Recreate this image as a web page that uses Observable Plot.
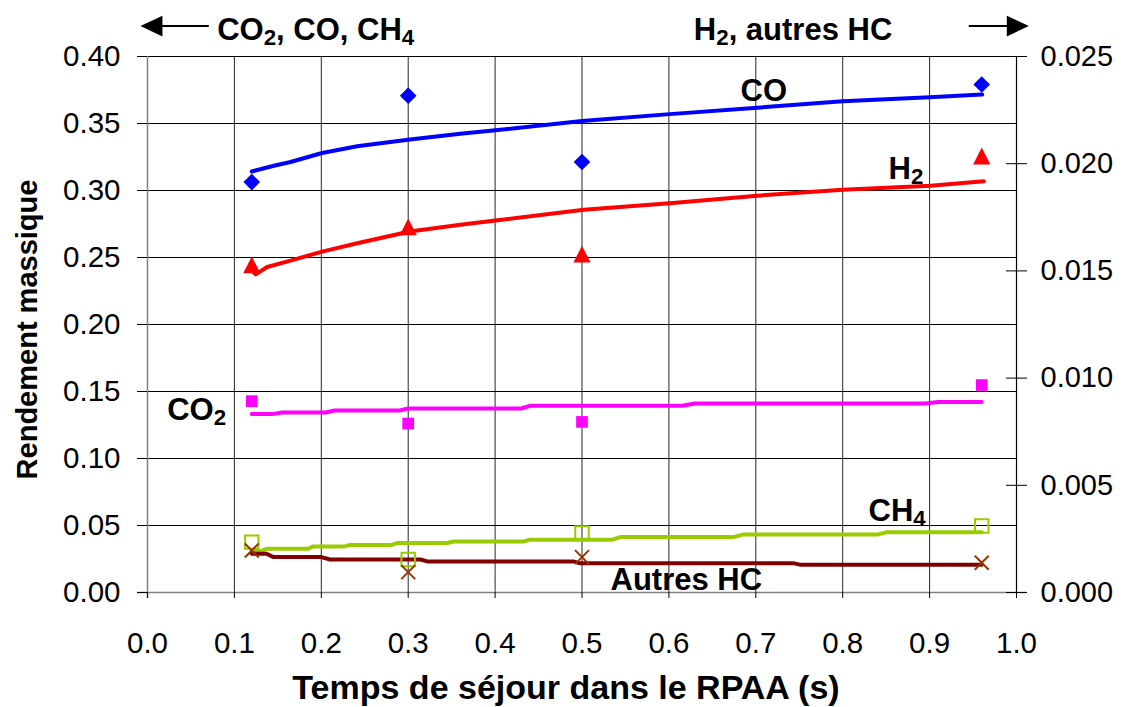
<!DOCTYPE html>
<html><head><meta charset="utf-8">
<script src="https://cdn.jsdelivr.net/npm/d3@7"></script>
<script src="https://cdn.jsdelivr.net/npm/@observablehq/plot@0.6"></script>
<style>
body{margin:0;background:#fff}
#chart svg{display:block}
</style>
</head><body><div id="chart"></div>
<script>
// ---------- data ----------
const xTicks = [0.0, 0.1, 0.2, 0.3, 0.4, 0.5, 0.6, 0.7, 0.8, 0.9, 1.0];
const yLeftTicks = [0.00, 0.05, 0.10, 0.15, 0.20, 0.25, 0.30, 0.35, 0.40];
const yRightTicks = [0.000, 0.005, 0.010, 0.015, 0.020, 0.025];
const rightToLeft = 16; // 0.025 (right) <-> 0.40 (left)

const xTitle = "Temps de séjour dans le RPAA (s)";
const yTitle = "Rendement massique";
const leftGroupLabel = "CO₂, CO, CH₄";
const rightGroupLabel = "H₂, autres HC";

// measured points (residence time, s)
const tMeasured = [0.12, 0.30, 0.50, 0.96];
const coMeasured = [0.3063, 0.3708, 0.3213, 0.3791];      // left axis
const co2Measured = [0.1428, 0.1261, 0.1273, 0.1548];     // left axis
const ch4Measured = [0.0376, 0.0247, 0.0444, 0.0496];     // left axis
const h2Measured = [0.01528, 0.01705, 0.01578, 0.02036];  // right axis
const hcMeasured = [0.00196, 0.00095, 0.00165, 0.00139];  // right axis

// model curves
const coFitT = [0.12, 0.1454, 0.1646, 0.201, 0.2413, 0.302, 0.36, 0.4005, 0.5, 0.601, 0.7016, 0.80, 0.90, 0.9605];
const coFitV = [0.3142, 0.3185, 0.3213, 0.328, 0.333, 0.338, 0.3424, 0.3449, 0.3518, 0.357, 0.3618, 0.3666, 0.3696, 0.3716];

const h2FitT = [0.12, 0.1245, 0.1377, 0.1646, 0.201, 0.2413, 0.302, 0.36, 0.4005, 0.502, 0.601, 0.7016, 0.80, 0.901, 0.9624];
const h2FitV = [0.01503, 0.01484, 0.01518, 0.01548, 0.0159, 0.01629, 0.01684, 0.01715, 0.01735, 0.01785, 0.01816, 0.01851, 0.01879, 0.01897, 0.01918];

const co2FitT = [0.12, 0.145, 0.155, 0.205, 0.215, 0.29, 0.30, 0.43, 0.44, 0.615, 0.63, 0.895, 0.91, 0.96];
const co2FitV = [0.1333, 0.1333, 0.1343, 0.1343, 0.1358, 0.1358, 0.1373, 0.1373, 0.1393, 0.1393, 0.1411, 0.1411, 0.1421, 0.1421];

const ch4FitT = [0.12, 0.13, 0.138, 0.185, 0.19, 0.227, 0.232, 0.28, 0.287, 0.345, 0.352, 0.433, 0.44, 0.535, 0.545, 0.675, 0.685, 0.84, 0.85, 0.96];
const ch4FitV = [0.0309, 0.0309, 0.0327, 0.0327, 0.0344, 0.0344, 0.0354, 0.0354, 0.0369, 0.0369, 0.0381, 0.0381, 0.0394, 0.0394, 0.0415, 0.0415, 0.0432, 0.0432, 0.0449, 0.0449];

const hcFitT = [0.12, 0.137, 0.145, 0.20, 0.21, 0.314, 0.322, 0.49, 0.498, 0.744, 0.752, 0.96];
const hcFitV = [0.00181, 0.00181, 0.00165, 0.00165, 0.00154, 0.00154, 0.00145, 0.00145, 0.00136, 0.00136, 0.00129, 0.00129];

// ---------- build tables ----------
const zipPts = (t, v, k) => t.map((x, i) => ({x, y: v[i] * k}));
const coPts = zipPts(tMeasured, coMeasured, 1);
const co2Pts = zipPts(tMeasured, co2Measured, 1);
const ch4Pts = zipPts(tMeasured, ch4Measured, 1);
const h2Pts = zipPts(tMeasured, h2Measured, rightToLeft);
const hcPts = zipPts(tMeasured, hcMeasured, rightToLeft);
const coFit = zipPts(coFitT, coFitV, 1);
const co2Fit = zipPts(co2FitT, co2FitV, 1);
const ch4Fit = zipPts(ch4FitT, ch4FitV, 1);
const h2Fit = zipPts(h2FitT, h2FitV, rightToLeft);
const hcFit = zipPts(hcFitT, hcFitV, rightToLeft);

// custom symbols
const triangleSym = {draw(ctx) { ctx.moveTo(0, -8.4); ctx.lineTo(8.6, 8.4); ctx.lineTo(-8.6, 8.4); ctx.closePath(); }};
const arrowHead = {draw(ctx) { ctx.moveTo(0, 0); ctx.lineTo(-22, -10.3); ctx.lineTo(-22, 10.3); ctx.closePath(); }};

const FONT = "'Liberation Sans', Arial, Helvetica, sans-serif";
const LBL = 31;

const chart = Plot.plot({
  width: 1125,
  height: 707,
  marginLeft: 147,
  marginRight: 109,
  marginTop: 56,
  marginBottom: 115,
  style: {fontFamily: FONT, fontSize: "29px", background: "#fff", color: "#000"},
  x: {domain: [0, 1], label: null},
  y: {domain: [0, 0.4], label: null},
  marks: [
    // grid
    Plot.ruleY(yLeftTicks.filter(v => v > 0), {stroke: "#000", strokeWidth: 1}),
    Plot.ruleX(xTicks.filter(v => v > 0 && v < 1), {stroke: "#000", strokeWidth: 1, strokeOpacity: 0.85}),
    // axis lines
    Plot.ruleX([0], {stroke: "#808080", strokeWidth: 1.5, insetBottom: -6}),
    Plot.ruleY([0], {stroke: "#808080", strokeWidth: 1.5, insetLeft: -10, insetRight: -10}),
    Plot.ruleX([1], {stroke: "#000", strokeWidth: 1.2}),
    // axes
    Plot.axisY(yLeftTicks, {anchor: "left", tickSize: 10, tickPadding: 17, tickFormat: d => d.toFixed(2), fontSize: 29.5, stroke: "#000"}),
    Plot.axisY(yRightTicks.map(v => v * rightToLeft), {anchor: "right", tickSize: 10, tickPadding: 14, tickFormat: d => (d / rightToLeft).toFixed(3), fontSize: 29, stroke: "#000"}),
    Plot.ruleY(yRightTicks.map(v => v * rightToLeft), {insetLeft: 859, insetRight: 0, stroke: "#000"}),
    Plot.axisX(xTicks, {anchor: "bottom", tickSize: 6, tickPadding: 34, tickFormat: d => d.toFixed(1), fontSize: 29.5, stroke: "#000"}),
    // axis titles
    Plot.text([xTitle], {frameAnchor: "bottom", lineAnchor: "middle", textAnchor: "middle", dy: 96, dx: -16, fontWeight: "bold", fontSize: 34, fill: "#000"}),
    Plot.text([yTitle], {frameAnchor: "left", lineAnchor: "middle", textAnchor: "middle", dx: -120, dy: 5, rotate: -90, fontWeight: "bold", fontSize: 29, fill: "#000"}),
    // model curves
    Plot.line(coFit, {x: "x", y: "y", stroke: "#0000FF", strokeWidth: 4}),
    Plot.line(h2Fit, {x: "x", y: "y", stroke: "#FF0000", strokeWidth: 4}),
    Plot.line(co2Fit, {x: "x", y: "y", stroke: "#FF00FF", strokeWidth: 4}),
    Plot.line(ch4Fit, {x: "x", y: "y", stroke: "#99CC00", strokeWidth: 4}),
    Plot.line(hcFit, {x: "x", y: "y", stroke: "#800000", strokeWidth: 4}),
    // measured points
    Plot.dot(coPts, {x: "x", y: "y", symbol: "diamond2", r: 7.5, fill: "#0000FF", stroke: "none"}),
    Plot.dot(h2Pts, {x: "x", y: "y", symbol: triangleSym, fill: "#FF0000", stroke: "none"}),
    Plot.dot(co2Pts, {x: "x", y: "y", symbol: "square", r: 6.6, fill: "#FF00FF", stroke: "none"}),
    Plot.dot(ch4Pts, {x: "x", y: "y", symbol: "square", r: 7.6, fill: "none", stroke: "#99CC00", strokeWidth: 2}),
    Plot.dot(hcPts, {x: "x", y: "y", symbol: "times", r: 6.4, stroke: "#993300", strokeWidth: 2}),
    // series labels
    Plot.text([
      {x: 0.6824, y: 0.3741, t: "CO"},
      {x: 0.8527, y: 0.3159, t: "H₂"},
      {x: 0.0227, y: 0.1359, t: "CO₂"},
      {x: 0.8297, y: 0.0607, t: "CH₄"},
      {x: 0.5328, y: 0.0096, t: "Autres HC"}
    ], {x: "x", y: "y", text: "t", textAnchor: "start", fontWeight: "bold", fontSize: LBL, fill: "#000"}),
    // axis group labels with arrows
    Plot.text([{x: 0.0802, y: 0.4196, t: leftGroupLabel}, {x: 0.6287, y: 0.4194, t: rightGroupLabel}],
      {x: "x", y: "y", text: "t", textAnchor: "start", fontWeight: "bold", fontSize: LBL, fill: "#000"}),
    Plot.link([{x1: -0.002, x2: 0.0705, y: 0.4227}, {x1: 0.945, x2: 1.008, y: 0.4227}],
      {x1: "x1", x2: "x2", y1: "y", y2: "y", stroke: "#000", strokeWidth: 2}),
    Plot.dot([{x: -0.0081, y: 0.4227}], {x: "x", y: "y", symbol: arrowHead, rotate: 180, fill: "#000", stroke: "none"}),
    Plot.dot([{x: 1.0142, y: 0.4227}], {x: "x", y: "y", symbol: arrowHead, fill: "#000", stroke: "none"})
  ]
});

document.getElementById("chart").appendChild(chart);

// render unicode subscripts as real smaller, lowered digits
const subRe = /[\u2080-\u2089]/;
chart.querySelectorAll("text").forEach(t => {
  const s = t.textContent;
  if (!subRe.test(s)) return;
  const fs = parseFloat(getComputedStyle(t).fontSize) || LBL;
  t.textContent = "";
  let shifted = false;
  for (const part of s.split(/([\u2080-\u2089]+)/)) {
    if (!part) continue;
    const ts = document.createElementNS("http://www.w3.org/2000/svg", "tspan");
    if (subRe.test(part)) {
      ts.textContent = part.replace(/[\u2080-\u2089]/g, c => String.fromCharCode(c.charCodeAt(0) - 0x2080 + 48));
      ts.setAttribute("font-size", (fs * 0.72).toFixed(1));
      ts.setAttribute("dy", (fs * 0.15).toFixed(1));
      shifted = true;
    } else {
      ts.textContent = part;
      if (shifted) { ts.setAttribute("dy", (-fs * 0.15).toFixed(1)); shifted = false; }
    }
    t.appendChild(ts);
  }
});
</script>
</body></html>
